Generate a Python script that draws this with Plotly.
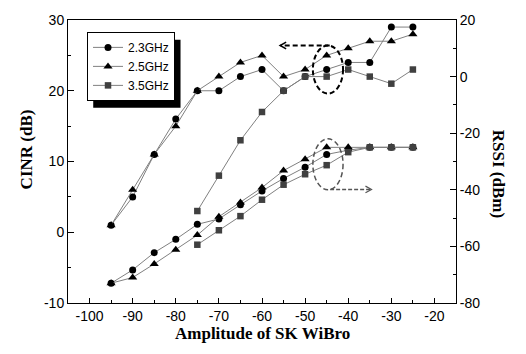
import plotly.graph_objects as go

# ---- data ----
amplitude = [-95, -90, -85, -80, -75, -70, -65, -60, -55, -50, -45, -40, -35, -30, -25]
amplitude_35 = [-75, -70, -65, -60, -55, -50, -45, -40, -35, -30, -25]

cinr_23 = [1, 5, 11, 16, 20, 20, 22, 23, 20, 22, 23, 24, 24, 29, 29]
cinr_25 = [1, 6, 11, 15, 20, 22, 24, 25, 22, 23, 25, 26, 27, 27, 28]
cinr_35 = [3, 8, 13, 17, 20, 22, 22, 23, 22, 21, 23]

rssi_23 = [-73, -68.3, -62.2, -57.5, -52.2, -50.3, -45.3, -40.4, -36, -32, -27.5, -26, -25, -25, -25]
rssi_25 = [-73, -71, -66.2, -61.2, -56, -49.5, -44.5, -39.2, -33.2, -29.2, -25, -25, -25, -25, -25]
rssi_35 = [-59.4, -54.3, -49.3, -43.5, -38.2, -34.5, -31.3, -26.7, -25, -25, -25]

series_names = ["2.3GHz", "2.5GHz", "3.5GHz"]

x_ticks = [-100, -90, -80, -70, -60, -50, -40, -30, -20]
x_minor = [-95, -85, -75, -65, -55, -45, -35, -25]
y1_ticks = [-10, 0, 10, 20, 30]
y1_minor = [-5, 5, 15, 25]
y2_ticks = [-80, -60, -40, -20, 0, 20]
y2_minor = [-70, -50, -30, -10, 10]

LINE = "#808080"
styles = [
    dict(symbol="circle", size=7, color="black"),
    dict(symbol="triangle-up", size=8, color="black"),
    dict(symbol="square", size=6.5, color="#404040"),
]

fig = go.Figure()
xs = [amplitude, amplitude, amplitude_35]
for name, x, y, st in zip(series_names, xs, [cinr_23, cinr_25, cinr_35], styles):
    fig.add_trace(go.Scatter(x=x, y=y, name=name, mode="lines+markers",
                             line=dict(color=LINE, width=1), marker=st,
                             legendgroup=name, yaxis="y"))
for name, x, y, st in zip(series_names, xs, [rssi_23, rssi_25, rssi_35], styles):
    fig.add_trace(go.Scatter(x=x, y=y, name=name, mode="lines+markers",
                             line=dict(color=LINE, width=1), marker=st,
                             legendgroup=name, showlegend=False, yaxis="y2"))

def hy(v):
    return [str(t).replace("−", "-") for t in v]

tickfont = dict(family="Liberation Sans, Arial", size=14, color="black")
fig.update_layout(
    width=526, height=354,
    margin=dict(l=68, r=70, t=16, b=51),
    paper_bgcolor="white", plot_bgcolor="white",
    showlegend=True,
    legend=dict(x=0.049, y=0.958, xanchor="left", yanchor="top",
                bgcolor="white", bordercolor="black", borderwidth=1,
                font=dict(family="Liberation Sans, Arial", size=12, color="black"),
                itemwidth=30, tracegroupgap=0),
    xaxis=dict(range=[-105, -15], tickmode="array", tickvals=x_ticks, ticktext=hy(x_ticks),
               ticks="inside", ticklen=5, tickcolor="black", showgrid=False, zeroline=False,
               showline=True, linecolor="black", linewidth=1, mirror=True, tickfont=tickfont,
               minor=dict(tickvals=x_minor, ticks="inside", ticklen=3, tickcolor="black")),
    yaxis=dict(range=[-10, 30], tickmode="array", tickvals=y1_ticks, ticktext=hy(y1_ticks),
               ticks="inside", ticklen=6, tickcolor="black", showgrid=False, zeroline=False,
               showline=True, linecolor="black", linewidth=1, tickfont=tickfont,
               minor=dict(tickvals=y1_minor, ticks="inside", ticklen=3, tickcolor="black")),
    yaxis2=dict(range=[-80, 20], overlaying="y", side="right", tickmode="array",
                tickvals=y2_ticks, ticktext=hy(y2_ticks),
                ticks="inside", ticklen=6, tickcolor="black", showgrid=False, zeroline=False,
                showline=True, linecolor="black", linewidth=1, tickfont=tickfont,
                minor=dict(tickvals=y2_minor, ticks="inside", ticklen=3, tickcolor="black")),
)

titlefont = dict(family="Liberation Serif, Times New Roman, serif", size=17, color="black")
fig.add_annotation(text="<b>CINR (dB)</b>", xref="paper", yref="paper", x=-0.137, y=0.544,
                   showarrow=False, textangle=-90, font=titlefont)
fig.add_annotation(text="<b>RSSI (dBm)</b>", xref="paper", yref="paper", x=1.139, y=0.455,
                   showarrow=False, textangle=90, font=titlefont)
fig.add_annotation(text="<b>Amplitude of SK WiBro</b>", xref="paper", yref="paper", x=0.5, y=-0.15,
                   showarrow=False, font=titlefont)

# legend shadow (legend itself is drawn above it)
fig.add_shape(type="rect", xref="paper", yref="paper", x0=0.065, x1=0.290, y0=0.690, y1=0.930,
              fillcolor="black", line=dict(width=0), layer="above")

# ellipses and arrows
fig.add_shape(type="circle", xref="x", yref="y", x0=-48.2, x1=-41.2, y0=19.6, y1=26.4,
              line=dict(color="black", width=2, dash="5px,3px"))
fig.add_shape(type="line", xref="x", yref="y", x0=-44.3, x1=-55.7, y0=26.4, y1=26.4,
              line=dict(color="black", width=2, dash="5px,3px"))
fig.add_shape(type="path", xref="x", yref="y", path="M -54.4 26.87 L -55.8 26.4 L -54.4 25.93",
              line=dict(color="black", width=1.5))
fig.add_shape(type="circle", xref="x", yref="y", x0=-48.2, x1=-41.2, y0=6.0, y1=13.2,
              line=dict(color="#555555", width=1.5, dash="5px,3px"))
fig.add_shape(type="line", xref="x", yref="y", x0=-44.2, x1=-34.7, y0=6.05, y1=6.05,
              line=dict(color="#555555", width=1.5, dash="4px,2px"))
fig.add_shape(type="path", xref="x", yref="y", path="M -36.0 6.52 L -34.6 6.05 L -36.0 5.58",
              line=dict(color="#555555", width=1.2))

fig.write_html("out.html", config={"displayModeBar": False},
               post_script="document.body.style.margin='0';")
